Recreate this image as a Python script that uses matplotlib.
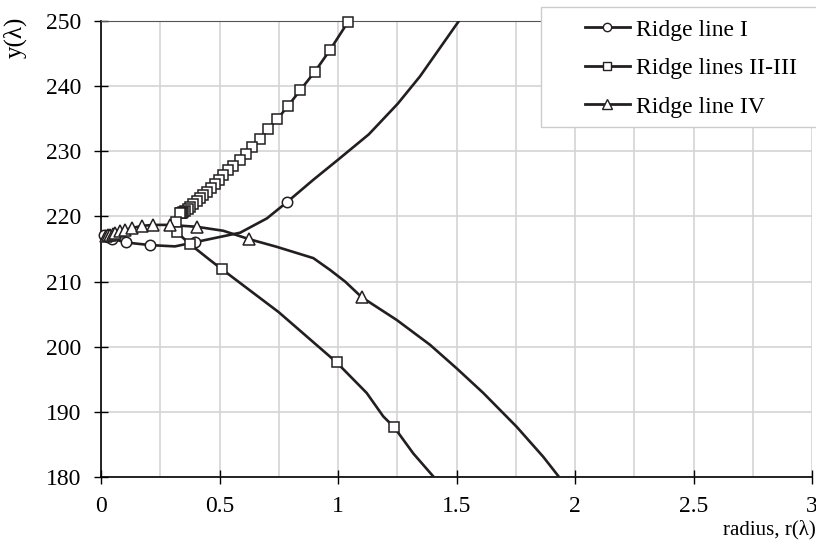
import numpy as np
import matplotlib
matplotlib.use("Agg")
import matplotlib.pyplot as plt
from matplotlib.lines import Line2D
from matplotlib.patches import Rectangle

plt.rcParams['font.family'] = ['Liberation Serif', 'DejaVu Serif']

# Ridge line I (circles)
r1_line_x = [0.013, 0.03, 0.046, 0.105, 0.207, 0.312, 0.397, 0.587, 0.70, 0.785, 0.895, 1.0, 1.13, 1.252, 1.346, 1.51]
r1_line_y = [217.1, 216.9, 216.6, 216.0, 215.6, 215.4, 216.05, 217.5, 219.7, 222.2, 225.6, 228.7, 232.6, 237.3, 241.5, 250.0]
r1_mark_x = [0.013, 0.03, 0.046, 0.105, 0.207, 0.397, 0.785]
r1_mark_y = [217.1, 216.9, 216.6, 216.0, 215.6, 216.05, 222.2]

# Ridge lines II-III (squares): upper branch, then lower branch
r23_upper_x = [1.043, 0.967, 0.902, 0.841, 0.790, 0.743, 0.703, 0.671, 0.636, 0.611, 0.586, 0.556,
               0.537, 0.516, 0.498, 0.481, 0.463, 0.446, 0.432, 0.418, 0.404, 0.389, 0.376, 0.365,
               0.354, 0.347, 0.341, 0.336, 0.332]
r23_upper_y = [249.9, 245.6, 242.2, 239.4, 237.0, 234.9, 233.4, 231.9, 230.6, 229.6, 228.6, 227.8,
               227.1, 226.3, 225.6, 225.0, 224.3, 223.8, 223.3, 222.8, 222.3, 221.9, 221.5, 221.2,
               220.9, 220.75, 220.6, 220.5, 220.45]
r23_lower_x = [0.316, 0.319, 0.377, 0.46, 0.51, 0.75, 0.994, 1.121, 1.191, 1.238, 1.318, 1.409]
r23_lower_y = [219.2, 217.6, 215.7, 213.3, 211.9, 205.3, 197.6, 192.9, 189.3, 187.6, 183.6, 179.8]
r23_lower_mark_x = [0.316, 0.319, 0.377, 0.51, 0.994, 1.238]
r23_lower_mark_y = [219.2, 217.6, 215.7, 211.9, 197.6, 187.6]

# Ridge line IV (triangles)
r4_mark_x = [0.02, 0.03, 0.04, 0.05, 0.059, 0.08, 0.101, 0.130, 0.172, 0.221, 0.291, 0.406, 0.626, 1.1]
r4_mark_y = [217.0, 217.1, 217.2, 217.3, 217.4, 217.7, 217.9, 218.2, 218.55, 218.7, 218.7, 218.4, 216.5, 207.6]
r4_line_x = [0.02, 0.03, 0.04, 0.05, 0.059, 0.08, 0.101, 0.130, 0.172, 0.221, 0.291, 0.406, 0.516, 0.626,
             0.74, 0.896, 0.966, 1.03, 1.1, 1.248, 1.388, 1.5, 1.613, 1.754, 1.866, 1.937]
r4_line_y = [217.0, 217.1, 217.2, 217.3, 217.4, 217.7, 217.9, 218.2, 218.55, 218.7, 218.7, 218.4, 217.8, 216.5,
             215.35, 213.6, 211.8, 210.0, 207.6, 204.1, 200.3, 196.7, 192.9, 187.7, 183.1, 179.8]

labels = ['Ridge line I', 'Ridge lines II-III', 'Ridge line IV']
line_col = '#231f20'

fig = plt.figure(figsize=(8.16, 5.48), dpi=100)
ax = fig.add_axes([101 / 816, 1 - 477 / 548, 711 / 816, 456 / 548])

lw = 1.9
ms = 7.5
mk = dict(ls='none', mfc='white', mec=line_col, mew=1.1, ms=ms, clip_on=False, zorder=4)

ax.plot(r1_line_x, r1_line_y, color=line_col, lw=lw, zorder=3)
ax.plot(r1_mark_x, r1_mark_y, marker='o', **mk)

ax.plot(r23_upper_x + r23_lower_x, r23_upper_y + r23_lower_y, color=line_col, lw=lw, zorder=3)
ax.plot(r23_upper_x + r23_lower_mark_x, r23_upper_y + r23_lower_mark_y, marker='s', **mk)

ax.plot(r4_line_x, r4_line_y, color=line_col, lw=lw, zorder=3)
ax.plot(r4_mark_x, r4_mark_y, marker='^', **dict(mk, ms=ms + 1))

ax.set_xlim(0, 3)
ax.set_ylim(180, 250)
ax.set_xticks(np.arange(0, 3.01, 0.5))
ax.set_xticklabels(['0', '0.5', '1', '1.5', '2', '2.5', '3'])
ax.set_xticks(np.arange(0, 3.01, 0.25), minor=True)
ax.set_yticks(np.arange(180, 251, 10))
ax.grid(True, which='both', axis='x', color='#d4d4d4', lw=1.2)
ax.grid(True, which='major', axis='y', color='#d4d4d4', lw=1.2)
ax.set_axisbelow(True)
ax.tick_params(which='major', direction='inout', length=10, width=1, labelsize=17, color='black')
ax.tick_params(which='minor', length=0)
ax.tick_params(axis='x', pad=9)
ax.tick_params(axis='y', pad=9)

ax.spines['right'].set_visible(False)
ax.spines['top'].set_color('#555555')
ax.spines['left'].set_linewidth(1.2)
ax.spines['bottom'].set_linewidth(1.2)

fig.text(15 / 816, 1 - 37 / 548, 'y(λ)', rotation=90, ha='center', va='center', fontsize=18)
fig.text(816 / 816, 1 - 530 / 548, 'radius, r(λ)', ha='right', va='center', fontsize=15)

# legend box (runs past the right edge as in the reference)
fig.patches.append(Rectangle((541 / 816, 1 - 127 / 548), 300 / 816, 120 / 548,
                             transform=fig.transFigure, facecolor='white',
                             edgecolor='#cccccc', lw=1.0, zorder=9))

handles = [
    Line2D([], [], color=line_col, lw=2.0, marker='o', mfc='white', mec=line_col, ms=6),
    Line2D([], [], color=line_col, lw=2.0, marker='s', mfc='white', mec=line_col, ms=6),
    Line2D([], [], color=line_col, lw=2.0, marker='^', mfc='white', mec=line_col, ms=6.5),
]
leg = fig.legend(handles, labels, loc='upper left', bbox_to_anchor=(585 / 816, 1 - 19 / 548),
                 fontsize=17, frameon=False, handlelength=1.9, handletextpad=0.25,
                 borderpad=0, labelspacing=0.72, borderaxespad=0)
leg.set_zorder(10)

fig.savefig('out.png', dpi=100)
